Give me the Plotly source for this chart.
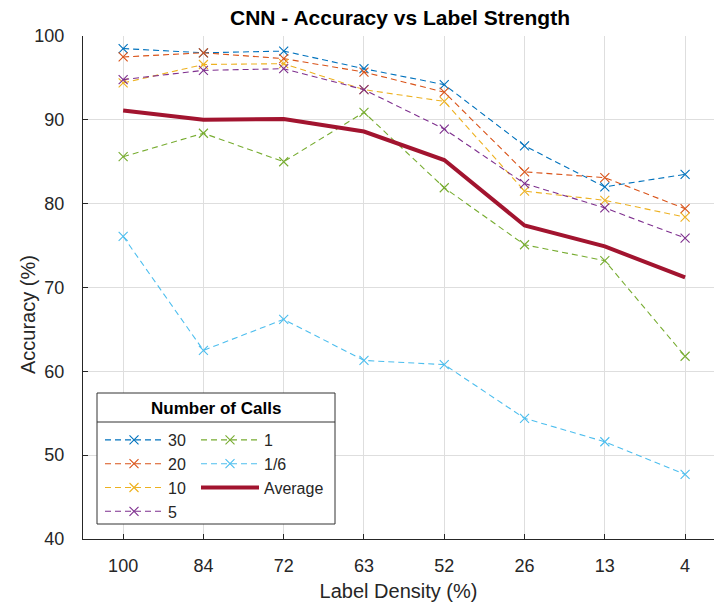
import plotly.graph_objects as go

# ---------------- data ----------------
label_density = ["100", "84", "72", "63", "52", "26", "13", "4"]

calls_30 = [98.5, 98.0, 98.2, 96.1, 94.2, 86.9, 82.0, 83.5]
calls_20 = [97.5, 98.0, 97.3, 95.7, 93.3, 83.8, 83.1, 79.4]
calls_10 = [94.4, 96.6, 96.7, 93.6, 92.2, 81.5, 80.4, 78.4]
calls_5 = [94.8, 95.9, 96.1, 93.6, 88.9, 82.4, 79.5, 75.9]
calls_1 = [85.6, 88.4, 85.0, 90.9, 81.9, 75.1, 73.2, 61.8]
calls_1_6 = [76.1, 62.5, 66.2, 61.3, 60.8, 54.4, 51.6, 47.7]
average = [91.1, 90.0, 90.1, 88.6, 85.2, 77.4, 74.9, 71.2]

series_names = ["30", "20", "10", "5", "1", "1/6"]
series_values = [calls_30, calls_20, calls_10, calls_5, calls_1, calls_1_6]
series_colors = ["#0072BD", "#D95319", "#EDB120", "#7E2F8E", "#77AC30", "#4DBEEE"]
avg_color = "#A2142F"

# ---------------- layout geometry ----------------
W, H = 714, 605
L, R, T, B = 83, 0, 36, 66
PW = W - L - R
PH = H - T - B
FONT = "Liberation Sans, Arial, Helvetica, sans-serif"
TXT = "#262626"


def px_x(p):
    return (p - L) / PW


def px_y(p):
    return (H - B - p) / PH


fig = go.Figure()

for i, (name, vals, col) in enumerate(zip(series_names, series_values, series_colors)):
    fig.add_trace(go.Scatter(
        x=label_density, y=vals, name=name, mode="lines+markers",
        line=dict(color=col, width=1.1, dash="6px,4px"),
        marker=dict(symbol="x-thin-open", size=9, line=dict(color=col, width=1.1)),
        legend="legend" if i < 4 else "legend2",
        legendgroup=name,
    ))

fig.add_trace(go.Scatter(
    x=label_density, y=average, name="Average", mode="lines",
    line=dict(color=avg_color, width=4),
    legend="legend2", legendgroup="Average",
))

legend_common = dict(
    bgcolor="rgba(0,0,0,0)", borderwidth=0,
    font=dict(family=FONT, size=16, color=TXT),
    itemwidth=58, tracegroupgap=0, traceorder="normal",
    xanchor="left", yanchor="top",
)

fig.update_layout(
    width=W, height=H,
    margin=dict(l=L, r=R, t=T, b=B, pad=0),
    paper_bgcolor="white", plot_bgcolor="white",
    font=dict(family=FONT, color=TXT),
    title=dict(
        text="<b>CNN - Accuracy vs Label Strength</b>",
        font=dict(family=FONT, size=21, color="#000000"),
        x=400 / W, xref="container", xanchor="center",
        y=1 - 18 / H, yref="container", yanchor="middle",
    ),
    xaxis=dict(
        type="category", categoryorder="array", categoryarray=label_density,
        range=[-0.5, 7.36],
        showline=True, linecolor=TXT, linewidth=1,
        ticks="inside", ticklen=5, tickcolor=TXT,
        showgrid=True, gridcolor="#dedede", gridwidth=1,
        tickfont=dict(family=FONT, size=18, color=TXT),
        ticklabelstandoff=10,
        title=dict(text="Label Density (%)", font=dict(family=FONT, size=20, color=TXT), standoff=9),
        zeroline=False, fixedrange=True,
    ),
    yaxis=dict(
        range=[40, 100], tickvals=[40, 50, 60, 70, 80, 90, 100],
        showline=True, linecolor=TXT, linewidth=1,
        ticks="inside", ticklen=5, tickcolor=TXT,
        showgrid=True, gridcolor="#dedede", gridwidth=1,
        tickfont=dict(family=FONT, size=18, color=TXT),
        ticklabelstandoff=14,
        zeroline=False, fixedrange=True,
    ),
    legend=dict(x=px_x(100), y=px_y(423), **legend_common),
    legend2=dict(x=px_x(196), y=px_y(423), **legend_common),
    showlegend=True,
)

# legend frame with title row
fig.add_shape(type="rect", xref="paper", yref="paper",
              x0=px_x(97), x1=px_x(335), y0=px_y(524), y1=px_y(393),
              line=dict(color="#333333", width=1), fillcolor="white", layer="above")
fig.add_shape(type="line", xref="paper", yref="paper",
              x0=px_x(97), x1=px_x(335), y0=px_y(422), y1=px_y(422),
              line=dict(color="#333333", width=1), layer="above")
fig.add_annotation(text="<b>Number of Calls</b>", xref="paper", yref="paper",
                   x=px_x(216), y=px_y(408), xanchor="center", yanchor="middle",
                   showarrow=False, font=dict(family=FONT, size=17, color="#000000"))

# y axis title
fig.add_annotation(text="Accuracy (%)", xref="paper", yref="paper",
                   x=px_x(28), y=px_y(314), xanchor="center", yanchor="middle",
                   textangle=-90, showarrow=False,
                   font=dict(family=FONT, size=20, color=TXT))

fig.write_html("out.html")
